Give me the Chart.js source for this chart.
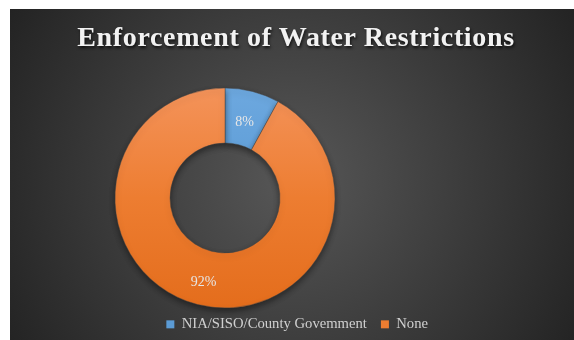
<!DOCTYPE html>
<html>
<head>
<meta charset="utf-8">
<script src="https://cdn.jsdelivr.net/npm/chart.js@4"></script>
<style>
  html, body { margin: 0; padding: 0; background: #fff; }
  #wrap { position: relative; width: 574px; height: 340px; }
  #chart { position: absolute; left: 0; top: 0; }
  #title {
    position: absolute; left: 10px; top: 23px; width: 564px; padding-left: 8px; box-sizing: border-box;
    text-align: center; font: bold 28px "Liberation Serif", "Times New Roman", serif; line-height: 28px;
    letter-spacing: 0.65px; color: #f2f2f2; text-shadow: 1px 2px 3px rgba(0,0,0,0.75);
  }
</style>
</head>
<body>
<div id="wrap">
  <canvas id="chart" width="574" height="340"></canvas>
  <div id="title">Enforcement of Water Restrictions</div>
</div>
<script>
  var categorias = ["NIA/SISO/County Govemment", "None"];
  var valores = [8, 92];
  var cores = ["#5b9bd5", "#ed7d31"];
  var coresClaras = ["#6da8df", "#f4935a"];
  var coresEscuras = ["#4a8acb", "#e46d1c"];

  // fundo escuro com gradiente radial e margem branca
  var fundo = {
    id: 'fundo',
    beforeDraw: function(chart) {
      var ctx = chart.ctx;
      ctx.save();
      ctx.fillStyle = '#ffffff';
      ctx.fillRect(0, 0, chart.width, chart.height);
      var g = ctx.createRadialGradient(292, 180, 0, 292, 180, 330);
      g.addColorStop(0, '#575757');
      g.addColorStop(1, '#232323');
      ctx.fillStyle = g;
      ctx.fillRect(10, 9, 564, 331);
      ctx.restore();
    }
  };

  var sombra = {
    id: 'sombra',
    beforeDatasetsDraw: function(chart) {
      var ctx = chart.ctx;
      ctx.save();
      ctx.shadowColor = 'rgba(0,0,0,0.45)';
      ctx.shadowBlur = 6;
      ctx.shadowOffsetY = 3;
    },
    afterDatasetsDraw: function(chart) {
      chart.ctx.restore();
    }
  };

  var rotulos = {
    id: 'rotulos',
    afterDatasetsDraw: function(chart) {
      var ctx = chart.ctx;
      var meta = chart.getDatasetMeta(0);
      var total = valores.reduce(function(a, b) { return a + b; }, 0);
      ctx.save();
      ctx.font = '14px "Liberation Serif", "Times New Roman", serif';
      ctx.fillStyle = '#e6e6e6';
      ctx.textAlign = 'center';
      ctx.textBaseline = 'middle';
      meta.data.forEach(function(arc, i) {
        var p = arc.tooltipPosition();
        ctx.fillText(Math.round(valores[i] / total * 100) + '%', p.x - 1, p.y + 4);
      });
      ctx.restore();
    }
  };

  function gradiente(c) {
    var i = c.dataIndex;
    var area = c.chart.chartArea;
    if (!area) return cores[i];
    var cy = (area.top + area.bottom) / 2;
    var g = c.chart.ctx.createLinearGradient(0, cy - 110, 0, cy + 110);
    g.addColorStop(0, coresClaras[i]);
    g.addColorStop(0.5, cores[i]);
    g.addColorStop(1, coresEscuras[i]);
    return g;
  }

  new Chart(document.getElementById('chart').getContext('2d'), {
    type: 'doughnut',
    data: {
      labels: categorias,
      datasets: [{
        data: valores,
        backgroundColor: gradiente,
        borderColor: 'rgba(70,70,70,0.6)',
        borderWidth: 0.75,
        radius: 110,
        cutout: '50%',
        clip: false
      }]
    },
    options: {
      responsive: false,
      animation: false,
      layout: { padding: { left: 8, right: 132, top: 93, bottom: 0 } },
      plugins: {
        title: { display: false },
        tooltip: { enabled: false },
        legend: {
          position: 'bottom',
          align: 'end',
          maxHeight: 37,
          labels: {
            boxWidth: 8,
            boxHeight: 8,
            padding: 14,
            color: '#d0d0d0',
            font: { family: '"Liberation Serif", "Times New Roman", serif', size: 14.67 },
            generateLabels: function(chart) {
              return categorias.map(function(nome, i) {
                return { text: nome, fillStyle: cores[i], strokeStyle: cores[i], lineWidth: 0, index: i, fontColor: '#d0d0d0' };
              });
            }
          }
        }
      }
    },
    plugins: [fundo, sombra, rotulos]
  });
</script>
</body>
</html>
